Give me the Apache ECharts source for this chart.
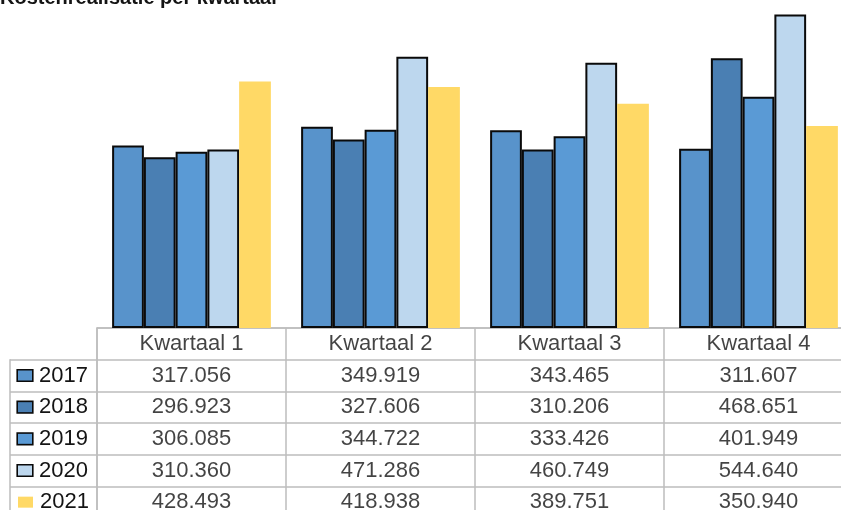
<!DOCTYPE html>
<html>
<head>
<meta charset="utf-8">
<script src="https://cdn.jsdelivr.net/npm/echarts@6/dist/echarts.min.js"></script>
<style>
html,body{margin:0;padding:0;background:#fff;overflow:hidden;width:841px;height:510px;}
#c{width:860px;height:520px;}
</style>
</head>
<body>
<div id="c"></div>
<script>
const titleText = 'Kostenrealisatie per kwartaal';
const quarters = ['Kwartaal 1', 'Kwartaal 2', 'Kwartaal 3', 'Kwartaal 4'];
const years = ['2017', '2018', '2019', '2020', '2021'];
const v2017 = [317056, 349919, 343465, 311607];
const v2018 = [296923, 327606, 310206, 468651];
const v2019 = [306085, 344722, 333426, 401949];
const v2020 = [310360, 471286, 460749, 544640];
const v2021 = [428493, 418938, 389751, 350940];
const seriesValues = [v2017, v2018, v2019, v2020, v2021];
const colors = ['#5893cb', '#4a7fb3', '#5a9ad5', '#bdd7ee', '#ffd966'];

const FONT = '"Liberation Sans", Arial, sans-serif';
const LINE = '#bdbdbd';
const TXT = '#141414';
const TBL_TOP = 328, ROW_H = 190 / 6;

function fmt(n) {
  return String(n).replace(/\B(?=(\d{3})+(?!\d))/g, '.');
}

const barSeries = years.map((y, i) => ({
  name: y,
  type: 'bar',
  xAxisIndex: 0, yAxisIndex: 0,
  data: seriesValues[i],
  barGap: '0%',
  barCategoryGap: '16%',
  itemStyle: {
    color: colors[i],
    borderColor: i < 4 ? '#0a0a0a' : colors[i],
    borderWidth: i < 4 ? 2 : 0
  },
  emphasis: { disabled: true }
}));

const cellData = [];
years.forEach((y, r) => {
  seriesValues[r].forEach((v, q) => cellData.push([q, r + 1, fmt(v)]));
});
const headerData = quarters.map((q, i) => [i, 0, q]);

const cellLabel = {
  show: true, position: 'inside',
  formatter: p => p.data[2],
  fontSize: 22, fontFamily: FONT, color: TXT
};

const rich = { t: { fontSize: 22, fontFamily: FONT, color: TXT, padding: [0, 0, 0, 7] } };
colors.forEach((c, i) => {
  rich['b' + i] = i < 4
    ? { width: 14, height: 10, backgroundColor: c, borderColor: '#0a0a0a', borderWidth: 1.6 }
    : { width: 15, height: 11, backgroundColor: c };
});

const option = {
  animation: false,
  backgroundColor: '#fff',
  title: {
    text: titleText, left: 0, top: -12, padding: 0,
    textStyle: { fontSize: 20, fontWeight: 'bold', fontFamily: FONT, color: TXT }
  },
  grid: [
    { left: 97, width: 756, top: 0, height: TBL_TOP },
    { left: 97, width: 756, top: TBL_TOP, height: ROW_H * 6 },
    { left: 10, width: 87, top: TBL_TOP + ROW_H, height: ROW_H * 5 }
  ],
  xAxis: [
    { gridIndex: 0, type: 'category', data: quarters, axisLine: { show: false }, axisTick: { show: false }, axisLabel: { show: false } },
    { gridIndex: 1, type: 'category', data: quarters, position: 'top', boundaryGap: true,
      axisLine: { show: true, lineStyle: { color: LINE, width: 1.5 } }, axisTick: { show: false }, axisLabel: { show: false },
      splitLine: { show: true, lineStyle: { color: LINE, width: 1.5 } } },
    { gridIndex: 2, type: 'category', data: [''], show: false }
  ],
  yAxis: [
    { gridIndex: 0, type: 'value', min: 0, max: 570000, show: false, splitLine: { show: false } },
    { gridIndex: 1, type: 'category', data: [''].concat(years), inverse: true, boundaryGap: true,
      axisLine: { show: true, lineStyle: { color: LINE, width: 1.5 } }, axisTick: { show: false }, axisLabel: { show: false },
      splitLine: { show: true, lineStyle: { color: LINE, width: 1.5 } } },
    { gridIndex: 2, type: 'category', data: years, inverse: true, boundaryGap: true,
      axisLine: { show: true, lineStyle: { color: LINE, width: 1.5 } }, axisTick: { show: false },
      axisLabel: {
        show: true, inside: true, margin: 8, align: 'left',
        formatter: (val, idx) => '{b' + idx + '|}{t|' + val + '}',
        rich: rich
      },
      splitLine: { show: true, lineStyle: { color: LINE, width: 1.5 } } }
  ],
  series: barSeries.concat([
    { name: 'header', type: 'scatter', xAxisIndex: 1, yAxisIndex: 1, data: headerData,
      symbol: 'rect', symbolSize: 1, itemStyle: { color: 'rgba(0,0,0,0)' }, label: cellLabel, silent: true },
    { name: 'cells', type: 'scatter', xAxisIndex: 1, yAxisIndex: 1, data: cellData,
      symbol: 'rect', symbolSize: 1, itemStyle: { color: 'rgba(0,0,0,0)' }, label: cellLabel, silent: true }
  ])
};

const chart = echarts.init(document.getElementById('c'));
chart.setOption(option);
</script>
</body>
</html>
